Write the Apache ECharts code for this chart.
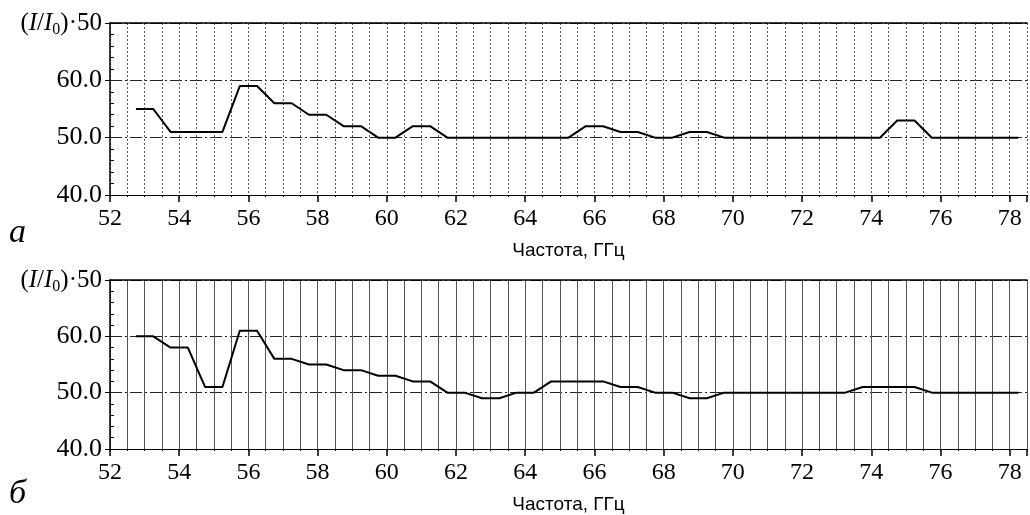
<!DOCTYPE html>
<html>
<head>
<meta charset="utf-8">
<script src="https://cdn.jsdelivr.net/npm/echarts@6/dist/echarts.min.js"></script>
<style>html,body{margin:0;padding:0;background:#fff}#c{width:1030px;height:515px}</style>
</head>
<body>
<div id="c"></div>
<script>
// Frequencies (GHz)
var freqs = [52.75,53.25,53.75,54.25,54.75,55.25,55.75,56.25,56.75,57.25,57.75,58.25,58.75,59.25,59.75,60.25,60.75,61.25,61.75,62.25,62.75,63.25,63.75,64.25,64.75,65.25,65.75,66.25,66.75,67.25,67.75,68.25,68.75,69.25,69.75,70.25,70.75,71.25,71.75,72.25,72.75,73.25,73.75,74.25,74.75,75.25,75.75,76.25,76.75,77.25,77.75,78.25];
// Panel а
var valuesA = [55,55,51,51,51,51,59,59,56,56,54,54,52,52,50,50,52,52,50,50,50,50,50,50,50,50,52,52,51,51,50,50,51,51,50,50,50,50,50,50,50,50,50,50,53,53,50,50,50,50,50,50];
// Panel б
var valuesB = [60,60,58,58,51,51,61,61,56,56,55,55,54,54,53,53,52,52,50,50,49,49,50,50,52,52,52,52,51,51,50,50,49,49,50,50,50,50,50,50,50,50,51,51,51,51,50,50,50,50,50,50];
var xTickLabels = [52,54,56,58,60,62,64,66,68,70,72,74,76,78];
var yTopLabel = '(I/I0)·50';
var xName = 'Частота, ГГц';
var panelLetters = ['а', 'б'];

function pairs(vals){ return freqs.map(function(f,i){ return [f, vals[i]]; }); }

var serif = 'Liberation Serif';
var chart = echarts.init(document.getElementById('c'), null, {renderer:'canvas'});

function xAxesFor(gi, dotted){
  return [
    { gridIndex: gi, type:'value', min:52, max:78.5, interval:0.5, position:'bottom',
      axisLine:{show:true, lineStyle:{color:'#000', width:1}},
      axisTick:{show:true, length:2, lineStyle:{color:'#000'}},
      axisLabel:{show:true, margin:12, color:'#000', fontFamily:serif, fontSize:24,
        formatter:function(v){ return xTickLabels.indexOf(v) >= 0 ? String(v) : ''; }},
      splitLine:{show:true, lineStyle: dotted ? {color:'#555', type:[2,2], width:1} : {color:'#555', type:'solid', width:1}},
      name: xName, nameLocation:'middle', nameGap:46,
      nameTextStyle:{color:'#000', fontFamily:'Liberation Sans', fontSize:19}
    },
    { gridIndex: gi, type:'value', min:52, max:78.5, interval:2, position:'bottom',
      axisLine:{show:false}, axisTick:{show:true, length:7, lineStyle:{color:'#000', width:1.5}},
      axisLabel:{show:false}, splitLine:{show:false}
    },
    { gridIndex: gi, type:'value', min:52, max:78.5, position:'top',
      axisLine:{show:true, lineStyle:{color:'#000', width:1.5}}, axisTick:{show:false},
      axisLabel:{show:false}, splitLine:{show:false}
    }
  ];
}
function yAxesFor(gi){
  return [
    { gridIndex: gi, type:'value', min:40, max:70, interval:10, position:'left',
      axisLine:{show:true, lineStyle:{color:'#000', width:1.5}},
      axisTick:{show:true, length:5, lineStyle:{color:'#000'}},
      axisLabel:{show:true, margin:8, color:'#000', fontFamily:serif, fontSize:26,
        formatter:function(v){ return v === 70 ? '{p|(}{i|I}{p|/}{i|I}{s|0}{p|)·50}' : v.toFixed(1); },
        rich:{ p:{fontFamily:serif, fontSize:25, color:'#000'},
               i:{fontFamily:serif, fontSize:25, fontStyle:'italic', color:'#000'},
               s:{fontFamily:serif, fontSize:16, color:'#000', padding:[13,0,0,0]} }
      },
      splitLine:{show:true, lineStyle:{color:'#222', type:[12,3,2,3], width:1}}
    },
    { gridIndex: gi, type:'value', min:40, max:70, interval:10, position:'left',
      axisLine:{show:false}, axisTick:{show:true, inside:true, length:0},
      minorTick:{show:true, splitNumber:5, length:4, lineStyle:{color:'#000'}},
      axisLabel:{show:false}, splitLine:{show:false}
    }
  ];
}

var option = {
  backgroundColor:'#fff',
  animation:false,
  grid:[
    {left:110, right:0, top:23, height:172, containLabel:false},
    {left:110, right:0, top:280, height:170, containLabel:false}
  ],
  xAxis: xAxesFor(0, true).concat(xAxesFor(1, false)),
  yAxis: yAxesFor(0).concat(yAxesFor(1)),
  series:[
    {type:'line', xAxisIndex:0, yAxisIndex:0, data:pairs(valuesA), symbol:'none',
     lineStyle:{color:'#000', width:2}, z:5},
    {type:'line', xAxisIndex:3, yAxisIndex:2, data:pairs(valuesB), symbol:'none',
     lineStyle:{color:'#000', width:2}, z:5}
  ],
  graphic:[
    {type:'text', left:9, top:216, style:{text:panelLetters[0], font:'italic 34px "Liberation Serif"', fill:'#000'}},
    {type:'text', left:9, top:477, style:{text:panelLetters[1], font:'italic 34px "Liberation Serif"', fill:'#000'}}
  ]
};
chart.setOption(option);
</script>
</body>
</html>
